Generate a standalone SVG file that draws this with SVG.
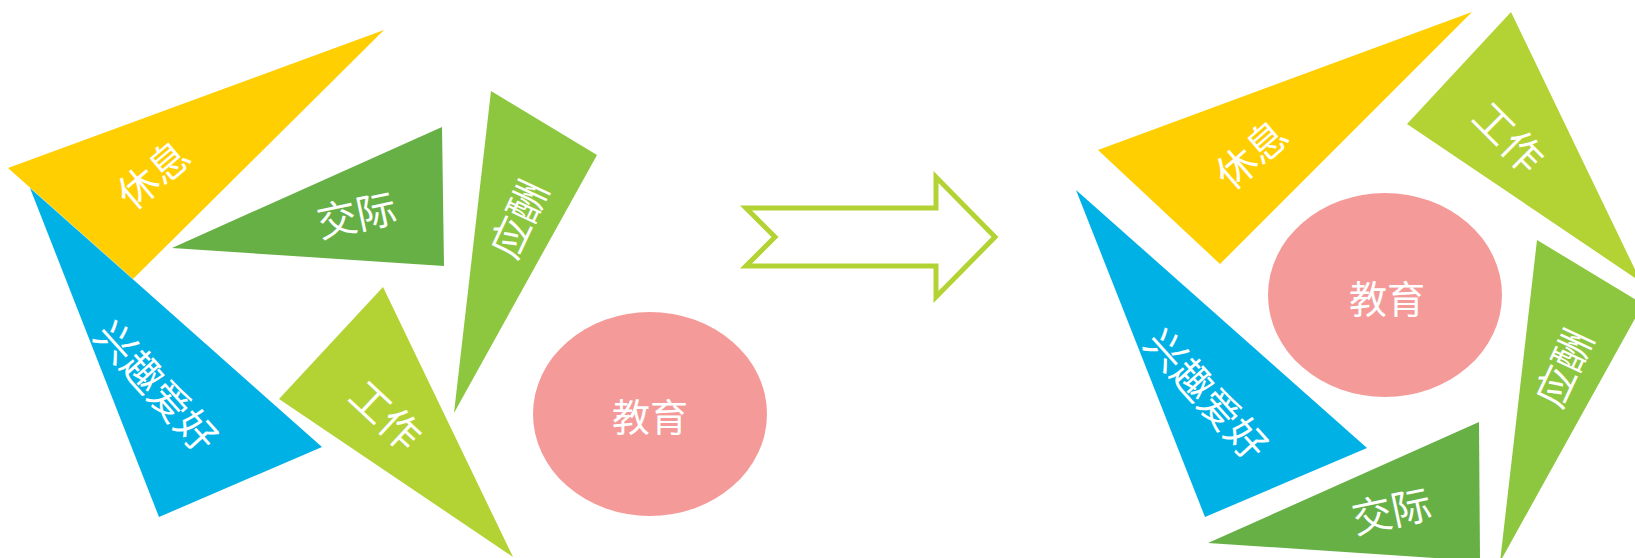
<svg xmlns="http://www.w3.org/2000/svg" width="1635" height="558" viewBox="0 0 1635 558">
<style>
.lbl{font-family:"Noto Sans CJK SC","Noto Sans",sans-serif;font-size:40px;fill:#ffffff;text-anchor:middle;dominant-baseline:central}
.edu{font-size:38px}
.yellow{fill:#FFCF01}
.blue{fill:#00B1E6}
.green{fill:#67B046}
.lgreen{fill:#8DC63F}
.ygreen{fill:#B3D334}
.pink{fill:#F49B9A}
</style>
<rect width="1635" height="558" fill="#ffffff"/>
<!-- left diagram -->
<g id="left-rest"><polygon class="yellow" points="8,168 384,30 133,279"/><text class="lbl" transform="translate(152,173) rotate(-40)">休息</text></g>
<g id="left-hobby"><polygon class="blue" points="30,188 322,447 159,517"/><text class="lbl" transform="translate(158,385) rotate(48)">兴趣爱好</text></g>
<g id="left-social"><polygon class="green" points="172,248 442,127 444,266"/><text class="lbl" transform="translate(356,213) rotate(-12)">交际</text></g>
<g id="left-entertain"><polygon class="lgreen" points="491,91 597,155 454,413"/><text class="lbl" transform="translate(517,218) rotate(-65)">应酬</text></g>
<g id="left-work"><polygon class="ygreen" points="383,287 279,399 513,557"/><text class="lbl" transform="translate(387,414) rotate(43)">工作</text></g>
<g id="left-edu"><ellipse class="pink" cx="650" cy="414" rx="117" ry="102"/><text class="lbl edu" x="650" y="414">教育</text></g>
<!-- connector -->
<g id="connectors"><path d="M746,208 L936,208 L936,177 L995,237 L936,297 L936,266 L746,266 L775,237 Z" fill="none" stroke="#B3D334" stroke-width="5" stroke-linejoin="miter"/></g>
<!-- right diagram -->
<g id="right-rest"><polygon class="yellow" points="1098,150 1472,12 1220,264"/><text class="lbl" transform="translate(1250,153) rotate(-41)">休息</text></g>
<g id="right-work"><polygon class="ygreen" points="1511,12 1407,124 1641,282"/><text class="lbl" transform="translate(1510,136) rotate(45)">工作</text></g>
<g id="right-edu"><ellipse class="pink" cx="1385" cy="295" rx="117" ry="102"/><text class="lbl edu" x="1387" y="296">教育</text></g>
<g id="right-hobby"><polygon class="blue" points="1076,190 1367,448 1205,517"/><text class="lbl" transform="translate(1208,393) rotate(48)">兴趣爱好</text></g>
<g id="right-entertain"><polygon class="lgreen" points="1537,240 1643,304 1500,562"/><text class="lbl" transform="translate(1562,367) rotate(-65)">应酬</text></g>
<g id="right-social"><polygon class="green" points="1208,543 1479,422 1480,561"/><text class="lbl" transform="translate(1391,509) rotate(-12)">交际</text></g>
</svg>
